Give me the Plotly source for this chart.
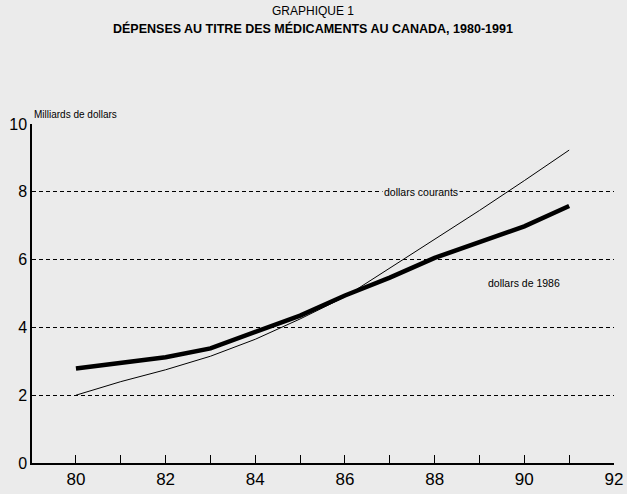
import plotly.graph_objects as go

years = [80, 81, 82, 83, 84, 85, 86, 87, 88, 89, 90, 91]
courants = [2.0, 2.4, 2.75, 3.15, 3.65, 4.25, 4.9, 5.75, 6.6, 7.45, 8.33, 9.23]
constants_1986 = [2.79, 2.97, 3.12, 3.38, 3.88, 4.35, 4.94, 5.47, 6.05, 6.5, 6.98, 7.58]
y_ticks = [0, 2, 4, 6, 8, 10]
x_ticks = [80, 82, 84, 86, 88, 90, 92]

BG = "#ebebeb"
FONT = "Liberation Sans, Arial, sans-serif"

fig = go.Figure()
fig.add_trace(go.Scatter(x=years, y=courants, mode="lines",
                         line=dict(color="black", width=1), name="dollars courants"))
fig.add_trace(go.Scatter(x=years, y=constants_1986, mode="lines",
                         line=dict(color="black", width=4.5), name="dollars de 1986"))

fig.add_annotation(x=87.7, y=8, text="dollars courants", showarrow=False,
                   font=dict(family=FONT, size=10.5, color="black"), bgcolor=BG,
                   xanchor="center", yanchor="middle")
fig.add_annotation(x=90.0, y=5.31, text="dollars de 1986", showarrow=False,
                   font=dict(family=FONT, size=10.5, color="black"),
                   xanchor="center", yanchor="middle")
fig.add_annotation(x=0, xref="paper", y=1.005, yref="paper", text="Milliards de dollars",
                   showarrow=False, font=dict(family=FONT, size=10, color="black"),
                   xanchor="left", yanchor="bottom")
fig.add_annotation(x=(313 - 32) / 582, xref="paper", y=1 + (124 - 11) / 339, yref="paper",
                   text="GRAPHIQUE 1", showarrow=False,
                   font=dict(family=FONT, size=12, color="black"),
                   xanchor="center", yanchor="middle")
fig.add_annotation(x=(313 - 32) / 582, xref="paper", y=1 + (124 - 29) / 339, yref="paper",
                   text="<b>DÉPENSES AU TITRE DES MÉDICAMENTS AU CANADA, 1980-1991</b>",
                   showarrow=False, font=dict(family=FONT, size=12.5, color="black"),
                   xanchor="center", yanchor="middle")

fig.update_layout(
    width=627, height=494,
    margin=dict(l=32, r=13, t=124, b=31, autoexpand=False),
    paper_bgcolor=BG, plot_bgcolor=BG,
    showlegend=False,
    font=dict(family=FONT, color="black"),
)

fig.update_xaxes(range=[79.02, 92], tickvals=x_ticks, ticks="inside", ticklen=8,
                 tickcolor="black", showline=True, linecolor="black", linewidth=1.5,
                 showgrid=False, zeroline=False, automargin=False,
                 minor=dict(dtick=1, tick0=80, ticks="inside", ticklen=8, tickcolor="black", showgrid=False),
                 tickfont=dict(family=FONT, size=17, color="black"))
fig.update_yaxes(range=[0, 10], tickvals=y_ticks, ticks="", showline=True, linecolor="black",
                 linewidth=1.5, showgrid=True, gridcolor="black", gridwidth=1,
                 griddash="4px,3px", zeroline=False, automargin=False,
                 tickfont=dict(family=FONT, size=16, color="black"))

fig.write_html("out.html")
